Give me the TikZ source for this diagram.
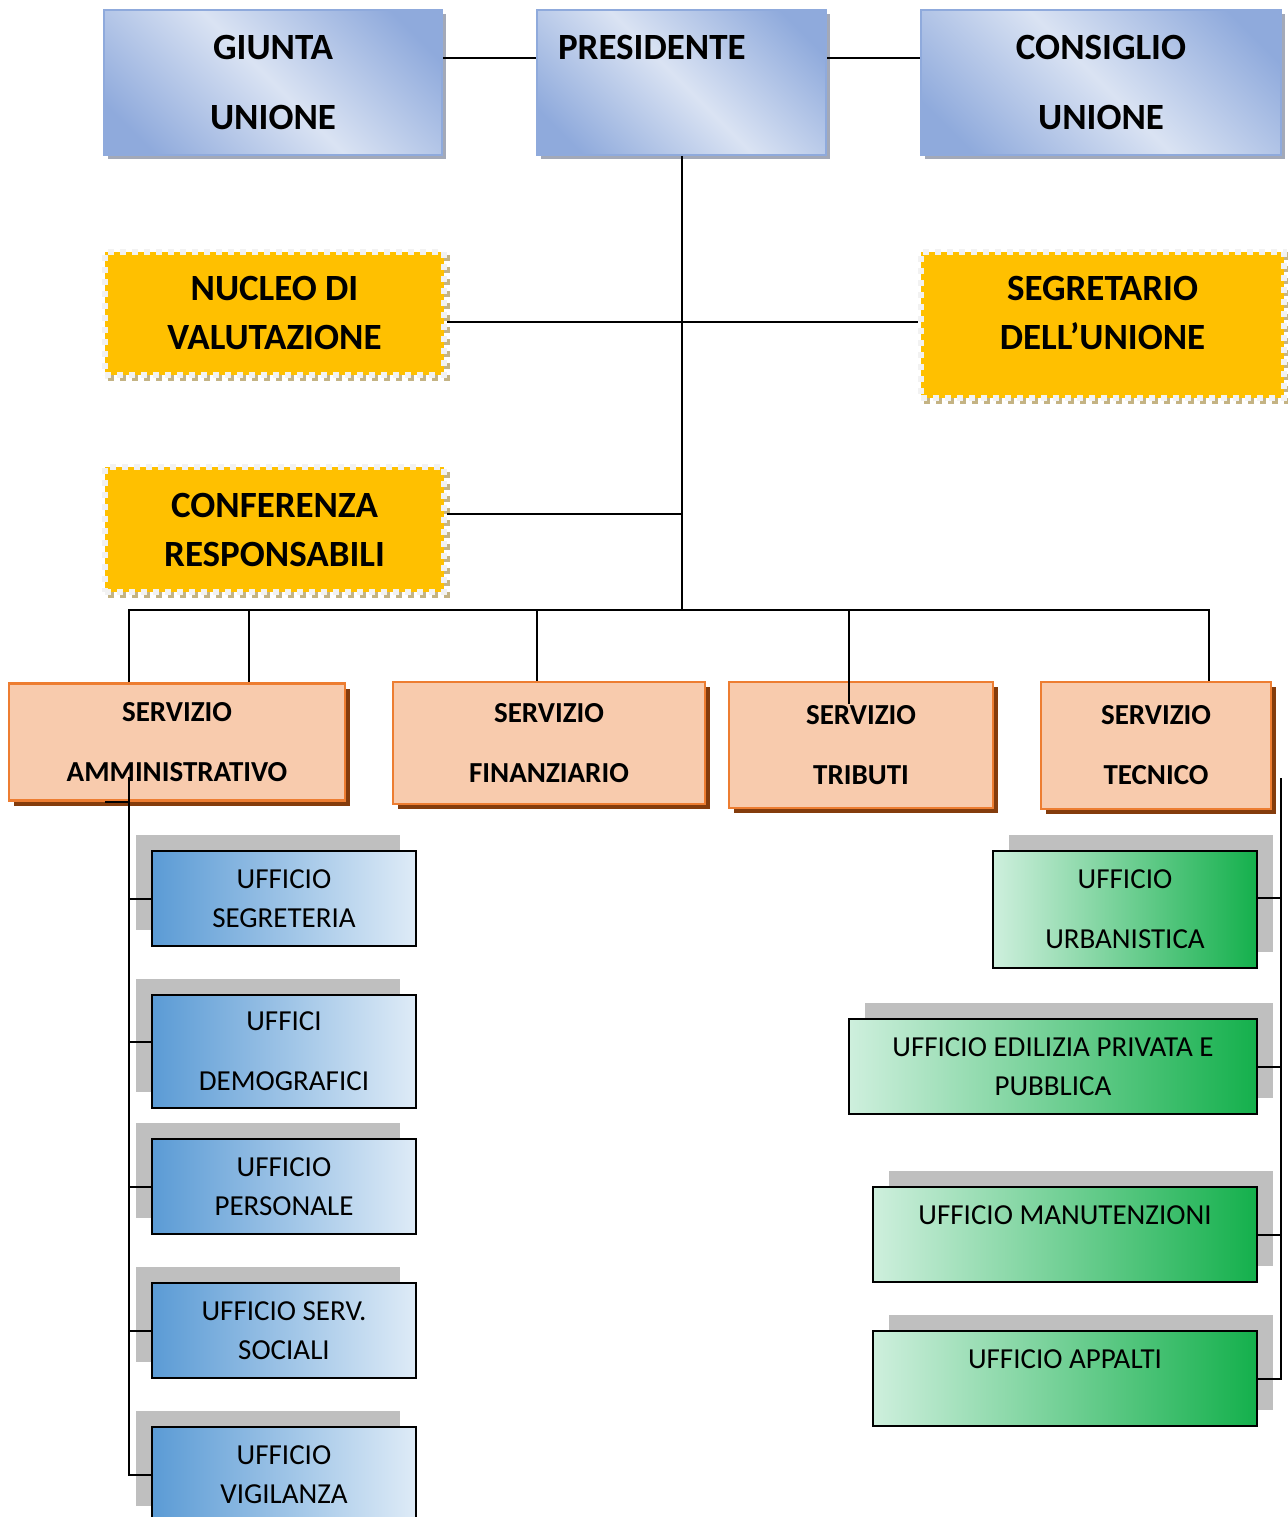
\documentclass[tikz,border=0pt]{standalone}
\usepackage{fontspec}
\setmainfont{Carlito}
\usepackage{xcolor}
\usepackage{tikz}
\usetikzlibrary{shadows}
\definecolor{tdark}{HTML}{8FAADC}
\definecolor{tlight}{HTML}{DAE3F3}
\definecolor{tshadow}{HTML}{A3A9B8}
\definecolor{ygold}{HTML}{FFC000}
\definecolor{ydash}{HTML}{F2F2F2}
\definecolor{ykhaki}{HTML}{C4B383}
\definecolor{sfill}{HTML}{F8CBAD}
\definecolor{sedge}{HTML}{ED7D31}
\definecolor{sbrown}{HTML}{843C0C}
\definecolor{ublue}{HTML}{5B9BD5}
\definecolor{ulight}{HTML}{DEEBF7}
\definecolor{glight}{HTML}{CEEFDD}
\definecolor{gdark}{HTML}{14B04C}
\colorlet{ushadow}{black!25}
\pgfdeclarehorizontalshading{topshade}{100bp}{color(0bp)=(tdark); color(22bp)=(tdark); color(50bp)=(tlight); color(78bp)=(tdark); color(100bp)=(tdark)}
\newcommand\topfont{\fontsize{37}{70}\selectfont\bfseries}
\newcommand\staffont{\fontsize{37}{49}\selectfont\bfseries}
\newcommand\servfont{\fontsize{29}{60}\selectfont\bfseries}
\newcommand\uffont{\fontsize{29}{39}\selectfont}
\tikzstyle{conn}=[line width=2pt]
\tikzstyle{topbox}=[draw=tdark, line width=2.5pt, shading=topshade, shading angle=45, drop shadow={shadow xshift=4pt, shadow yshift=-4pt, fill=tshadow, opacity=1}, font=\topfont, align=center, inner sep=0pt]
\tikzstyle{staffbox}=[fill=ygold, draw=ydash, line width=6pt, dash pattern=on 6pt off 6pt, preaction={draw=ykhaki, line width=6pt, dash pattern=on 6pt off 6pt, transform canvas={shift={(3pt,-3pt)}}}, font=\staffont, align=center, inner sep=0pt]
\tikzstyle{servbox}=[fill=sfill, draw=sedge, line width=2.5pt, drop shadow={shadow xshift=5pt, shadow yshift=-5pt, fill=sbrown, opacity=1}, font=\servfont, align=center, inner sep=0pt]
\tikzstyle{uffbox}=[draw=black, line width=1.8pt, font=\uffont, align=center, inner sep=0pt]
\tikzstyle{uffleft}=[uffbox, left color=ublue, right color=ulight, drop shadow={shadow xshift=-16pt, shadow yshift=16pt, fill=ushadow, opacity=1}]
\tikzstyle{uffright}=[uffbox, left color=glight, right color=gdark, drop shadow={shadow xshift=16pt, shadow yshift=16pt, fill=ushadow, opacity=1}]

\begin{document}
\begin{tikzpicture}[x=1pt,y=-1pt]
	\useasboundingbox (0,0) rectangle (1287,1517);
	\node[topbox, minimum width=338pt, minimum height=145pt] (giunta) at (273,82.5) {GIUNTA\\UNIONE};
	\node[topbox, minimum width=289pt, minimum height=145pt, text width=247pt, align=left] (pres) at (681.5,82.5) {PRESIDENTE\\\mbox{}};
	\node[topbox, minimum width=360pt, minimum height=145pt] (cons) at (1101,82.5) {CONSIGLIO\\UNIONE};

	\node[staffbox, minimum width=339pt, minimum height=123pt] (nucleo) at (274.5,313.5) {NUCLEO DI\\VALUTAZIONE};
	\node[staffbox, minimum width=363pt, minimum height=146pt, text depth=25pt] (segr) at (1102.5,325) {SEGRETARIO\\DELL’UNIONE};
	\node[staffbox, minimum width=339pt, minimum height=125pt] (conf) at (274.5,529.5) {CONFERENZA\\RESPONSABILI};

	\node[servbox, minimum width=336pt, minimum height=117pt] (sAmm) at (177,742) {SERVIZIO\\AMMINISTRATIVO};
	\node[servbox, minimum width=312pt, minimum height=122pt] (sFin) at (549,743) {SERVIZIO\\FINANZIARIO};
	\node[servbox, minimum width=264pt, minimum height=126pt] (sTrib) at (861,745) {SERVIZIO\\TRIBUTI};
	\node[servbox, minimum width=230pt, minimum height=127pt] (sTec) at (1156,745.5) {SERVIZIO\\TECNICO};

	\node[uffleft, minimum width=264pt, minimum height=95pt] (uSegr) at (284,898.5) {UFFICIO\\SEGRETERIA};
	\node[uffleft, minimum width=264pt, minimum height=113pt] (uDemo) at (284,1051.5) {UFFICI\\[21pt]DEMOGRAFICI};
	\node[uffleft, minimum width=264pt, minimum height=95pt] (uPers) at (284,1186.5) {UFFICIO\\PERSONALE};
	\node[uffleft, minimum width=264pt, minimum height=95pt] (uSoc) at (284,1330.5) {UFFICIO SERV.\\SOCIALI};
	\node[uffleft, minimum width=264pt, minimum height=95pt] (uVig) at (284,1474.5) {UFFICIO\\VIGILANZA};

	\node[uffright, minimum width=264pt, minimum height=117pt] (uUrb) at (1125,909.5) {UFFICIO\\[21pt]URBANISTICA};
	\node[uffright, minimum width=408pt, minimum height=95pt] (uEdil) at (1053,1066.5) {UFFICIO EDILIZIA PRIVATA E\\PUBBLICA};
	\node[uffright, minimum width=384pt, minimum height=95pt] (uManut) at (1065,1234.5) {UFFICIO MANUTENZIONI\\\mbox{}};
	\node[uffright, minimum width=384pt, minimum height=95pt] (uApp) at (1065,1378.5) {UFFICIO APPALTI\\\mbox{}};

	\coordinate (topline) at (681.5,58);
	\coordinate (midline) at (681.5,322);
	\coordinate (confline) at (681.5,514);
	\coordinate (bus) at (681.5,610);
	\draw[conn] (giunta.east |- topline) -- (pres.west |- topline);
	\draw[conn] (pres.east |- topline) -- (cons.west |- topline);
	\draw[conn] (pres.south) -- (pres.south |- bus);
	\draw[conn] (nucleo.east |- midline) -- (segr.west |- midline);
	\draw[conn] (conf.east |- confline) -- (confline);

	\coordinate (dA1) at (129,610);
	\coordinate (dA2) at (249,610);
	\coordinate (dF) at (537,610);
	\coordinate (dT) at (849,610);
	\coordinate (dTe) at (1209,610);
	\draw[conn] (dA1 |- sAmm.north) -- (dA1) -- (dTe) -- (dTe |- sTec.north);
	\draw[conn] (dA2) -- (dA2 |- sAmm.north);
	\draw[conn] (dF) -- (dF |- sFin.north);
	\draw[conn] (dT) -- (dT |- sTrib.north) -- ++(0,23);

	\coordinate (lbus) at (129,777);
	\coordinate (lstub) at (105,802);
	\draw[conn] (lstub) -- (lstub -| lbus);
	\draw[conn] (lbus) -- (lbus |- uVig.west) -- (uVig.west);
	\draw[conn] (uSegr.west) -- (uSegr.west -| lbus);
	\draw[conn] ([yshift=9.5pt]uDemo.west) -- ([yshift=9.5pt]uDemo.west -| lbus);
	\draw[conn] (uPers.west) -- (uPers.west -| lbus);
	\draw[conn] (uSoc.west) -- (uSoc.west -| lbus);

	\coordinate (rbus) at (1281,778);
	\draw[conn] (rbus) -- (rbus |- uApp.east) -- (uApp.east);
	\draw[conn] ([yshift=11.5pt]uUrb.east) -- ([yshift=11.5pt]uUrb.east -| rbus);
	\draw[conn] (uEdil.east) -- (uEdil.east -| rbus);
	\draw[conn] (uManut.east) -- (uManut.east -| rbus);
\end{tikzpicture}
\end{document}
